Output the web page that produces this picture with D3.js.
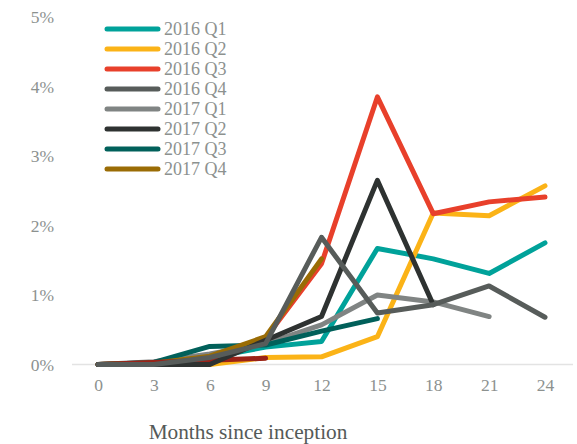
<!DOCTYPE html>
<html>
<head>
<meta charset="utf-8">
<script src="https://cdn.jsdelivr.net/npm/d3@7"></script>
<style>
  html, body { margin: 0; padding: 0; background: #fff; }
  svg { display: block; }
</style>
</head>
<body>
<div id="chart"></div>
<script>
// ---- data ----
const months = [0, 3, 6, 9, 12, 15, 18, 21, 24];
const yTicks = [0, 1, 2, 3, 4, 5];
const seriesNames = ["2016 Q1", "2016 Q2", "2016 Q3", "2016 Q4", "2017 Q1", "2017 Q2", "2017 Q3", "2017 Q4", "2018 Q1"];
const seriesColors = ["#00A29A", "#FBB317", "#E8402B", "#575C5A", "#808483", "#2E3231", "#01605A", "#9A6C05", "#9A2218"];
const v2016Q1 = [0, 0.02, 0.10, 0.25, 0.33, 1.67, 1.52, 1.31, 1.75];
const v2016Q2 = [0, 0.00, 0.00, 0.10, 0.11, 0.40, 2.18, 2.14, 2.57];
const v2016Q3 = [0, 0.02, 0.12, 0.38, 1.45, 3.85, 2.17, 2.34, 2.41];
const v2016Q4 = [0, 0.00, 0.10, 0.30, 1.83, 0.74, 0.86, 1.13, 0.68];
const v2017Q1 = [0, 0.04, 0.15, 0.30, 0.57, 1.00, 0.90, 0.69];
const v2017Q2 = [0, 0.00, 0.00, 0.35, 0.69, 2.65, 0.86];
const v2017Q3 = [0, 0.03, 0.26, 0.28, 0.48, 0.66];
const v2017Q4 = [0, 0.02, 0.12, 0.40, 1.52];
const v2018Q1 = [0, 0.03, 0.06, 0.09];
const seriesValues = [v2016Q1, v2016Q2, v2016Q3, v2016Q4, v2017Q1, v2017Q2, v2017Q3, v2017Q4, v2018Q1];
const legendCount = 8;
const xTitle = "Months since inception";

// ---- layout ----
const W = 577, H = 444;
const svg = d3.select("#chart").append("svg").attr("width", W).attr("height", H);
const x = d3.scaleLinear().domain([0, 24]).range([98, 545]);
const y = d3.scaleLinear().domain([0, 5]).range([364.5, 17]);
const font = "'Liberation Serif', 'Times New Roman', serif";

// gridline at 0
svg.append("line")
  .attr("x1", 72).attr("x2", 573)
  .attr("y1", y(0)).attr("y2", y(0))
  .attr("stroke", "#e3e3e3").attr("stroke-width", 1.5);

// y axis labels
const yAxis = d3.axisLeft(y).tickValues(yTicks).tickFormat(d => d + "%").tickSize(0).tickPadding(0);
const gy = svg.append("g").attr("transform", "translate(54,0)").call(yAxis);
gy.select(".domain").remove();
gy.selectAll("text").attr("font-family", font).attr("font-size", 17.5).attr("fill", "#8c918f").attr("dy", "0.32em");

// x axis labels
const xAxis = d3.axisBottom(x).tickValues(months).tickFormat(d3.format("d")).tickSize(0).tickPadding(0);
const gx = svg.append("g").attr("transform", "translate(0,378)").call(xAxis);
gx.select(".domain").remove();
gx.selectAll("text").attr("font-family", font).attr("font-size", 17.5).attr("fill", "#8c918f").attr("dy", "0.76em");

// x title
svg.append("text").attr("x", 248).attr("y", 438.5)
  .attr("text-anchor", "middle").attr("font-family", font).attr("font-size", 21.3)
  .attr("fill", "#555a58").text(xTitle);

// lines
const line = d3.line().x((d, i) => x(months[i])).y(d => y(d));
const drawOrder = [0, 1, 2, 4, 6, 7, 8, 5, 3];
svg.append("g").selectAll("path").data(drawOrder).join("path")
  .attr("d", i => line(seriesValues[i]))
  .attr("fill", "none")
  .attr("stroke", i => seriesColors[i])
  .attr("stroke-width", 5)
  .attr("stroke-linecap", "round")
  .attr("stroke-linejoin", "round");

// legend
const lg = svg.append("g");
const items = seriesNames.slice(0, legendCount);
items.forEach((name, i) => {
  const yy = 29 + i * 20;
  lg.append("line").attr("x1", 107).attr("x2", 158).attr("y1", yy).attr("y2", yy)
    .attr("stroke", seriesColors[i]).attr("stroke-width", 5).attr("stroke-linecap", "round");
  lg.append("text").attr("x", 164).attr("y", yy).attr("dy", "0.35em")
    .attr("font-family", font).attr("font-size", 18).attr("fill", "#8c918f").text(name);
});
</script>
</body>
</html>
